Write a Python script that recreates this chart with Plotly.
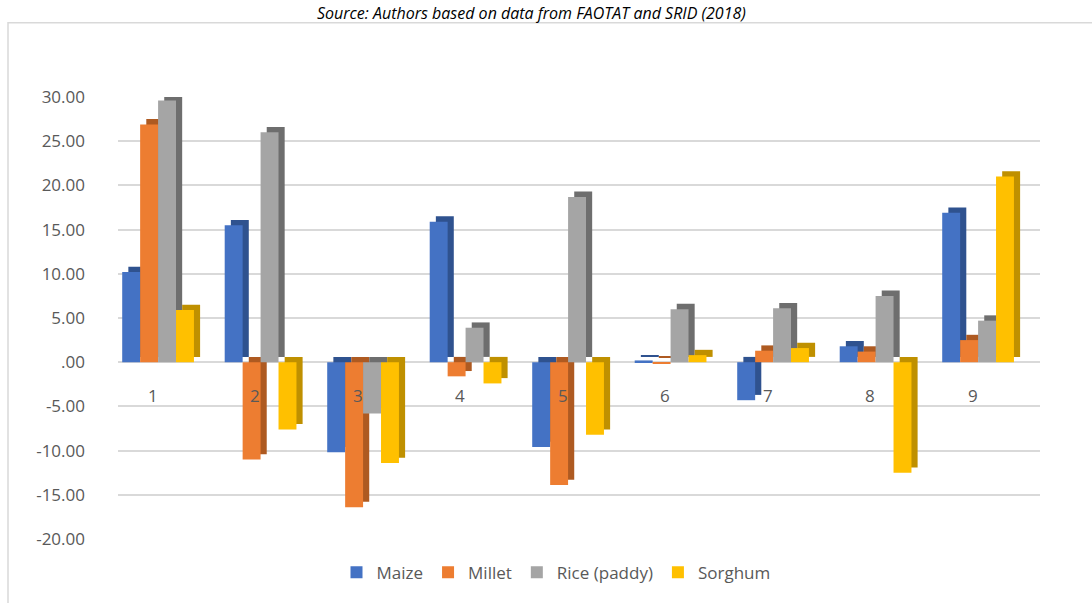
import plotly.graph_objects as go

categories = [1, 2, 3, 4, 5, 6, 7, 8, 9]
cat_labels = ["1", "2", "3", "4", "5", "6", "7", "8", "9"]
series_names = ["Maize", "Millet", "Rice (paddy)", "Sorghum"]
maize = [10.2, 15.5, -10.2, 15.9, -9.6, 0.2, -4.3, 1.8, 16.9]
millet = [26.9, -11.0, -16.4, -1.6, -13.9, -0.1, 1.3, 1.2, 2.5]
rice = [29.6, 26.0, -5.8, 3.9, 18.7, 6.0, 6.1, 7.5, 4.7]
sorghum = [5.9, -7.6, -11.4, -2.4, -8.2, 0.8, 1.6, -12.5, 21.0]
tick_vals = [30, 25, 20, 15, 10, 5, 0, -5, -10, -15, -20]
tick_text = ["30.00", "25.00", "20.00", "15.00", "10.00", "5.00", ".00",
             "-5.00", "-10.00", "-15.00", "-20.00"]
title_text = "Source: Authors based on data from FAOTAT and SRID (2018)"

front_colors = ["#4472C4", "#ED7D31", "#A5A5A5", "#FFC000"]
side_colors = ["#2F528F", "#AE5A21", "#6E6E6E", "#BF9000"]
all_values = [maize, millet, rice, sorghum]

W = 0.175
offsets = [-0.30, -0.125, 0.05, 0.225]
depth_x = 0.06
depth_y = 0.6

fig = go.Figure()
# side faces (pseudo 3D)
for name, vals, off, col in zip(series_names, all_values, offsets, side_colors):
    fig.add_trace(go.Bar(
        x=categories, y=vals, base=[depth_y] * len(vals), width=W,
        offset=off + depth_x, marker=dict(color=col, line=dict(width=0)),
        showlegend=False, hoverinfo="skip"))
# front faces
for name, vals, off, col in zip(series_names, all_values, offsets, front_colors):
    fig.add_trace(go.Bar(
        x=categories, y=vals, width=W, offset=off, name=name,
        marker=dict(color=col, line=dict(width=0))))

font_fam = "Open Sans, Noto Sans, sans-serif"
annotations = [
    dict(x=c, y=0, xref="x", yref="y", text=t, showarrow=False, yshift=-33,
         font=dict(family=font_fam, size=17, color="#595959"))
    for c, t in zip(categories, cat_labels)
]
annotations.append(dict(
    x=(531 - 118) / 922, y=1 + (97 - 0) / 447, xref="paper", yref="paper",
    text="<i>" + title_text + "</i>", showarrow=False, yanchor="top",
    xanchor="center", borderpad=0,
    font=dict(family=font_fam, size=16, color="#000000")))

fig.update_layout(
    width=1092, height=603,
    margin=dict(l=118, r=52, t=97, b=59),
    paper_bgcolor="white", plot_bgcolor="white",
    barmode="overlay",
    font=dict(family=font_fam, color="#595959"),
    xaxis=dict(range=[0.659, 9.654], showticklabels=False, showgrid=False,
               zeroline=False, showline=False, ticks=""),
    yaxis=dict(range=[-20, 30], tickvals=tick_vals, ticktext=tick_text,
               showgrid=True, gridcolor="#D9D9D9", gridwidth=1.5,
               zeroline=False, showline=False, ticks="",
               ticklabelstandoff=32,
               tickfont=dict(family=font_fam, size=17, color="#595959")),
    legend=dict(orientation="h", x=(556 - 118) / 922, xanchor="center",
                y=(544 - 578) / 447, yanchor="middle",
                font=dict(family=font_fam, size=17, color="#595959"),
                itemwidth=30, traceorder="normal"),
    annotations=annotations,
    shapes=[dict(type="rect", xref="paper", yref="paper",
                 x0=(8 - 118) / 922, x1=1.2, y0=-0.3, y1=1 + (97 - 22) / 447,
                 line=dict(color="#D9D9D9", width=1.5), layer="below")],
)

fig.write_html("out.html")
